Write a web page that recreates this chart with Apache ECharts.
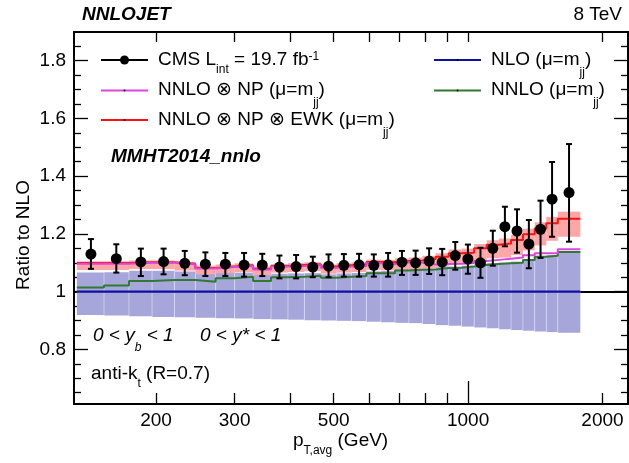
<!DOCTYPE html>
<html><head><meta charset="utf-8">
<script src="https://cdn.jsdelivr.net/npm/echarts@6/dist/echarts.min.js"></script>
<style>html,body{margin:0;padding:0;background:#fff}#c{width:629px;height:463px}</style>
</head><body><div id="c"></div>
<script>
// ---- data (pT_avg bins in GeV, ratios to NLO) ----
const edges = [133,153,174,196,220,245,272,300,330,362,395,430,468,507,548,592,638,686,737,790,846,905,967,1032,1101,1172,1248,1327,1410,1497,1588,1784];
const cmsPt = [143,163,185,208,232,258,286,315,346,378,412,449,487,527,570,615,662,711,763,818,875,936,999,1066,1136,1209,1287,1368,1453,1542,1683];
const cmsRatio = [1.130,1.114,1.103,1.104,1.098,1.095,1.095,1.092,1.092,1.085,1.087,1.085,1.088,1.091,1.093,1.091,1.093,1.102,1.100,1.106,1.102,1.125,1.113,1.100,1.150,1.225,1.210,1.165,1.216,1.320,1.343];
const cmsErrHigh = [1.182,1.164,1.149,1.149,1.141,1.136,1.134,1.134,1.131,1.125,1.127,1.121,1.129,1.130,1.131,1.129,1.134,1.141,1.142,1.150,1.148,1.172,1.163,1.152,1.211,1.294,1.285,1.248,1.315,1.449,1.511];
const cmsErrLow = [1.079,1.066,1.054,1.060,1.057,1.054,1.054,1.052,1.054,1.046,1.046,1.050,1.050,1.052,1.052,1.052,1.052,1.058,1.058,1.061,1.057,1.076,1.062,1.048,1.090,1.157,1.135,1.081,1.117,1.190,1.173];
const nlo = [1,1,1,1,1,1,1,1,1,1,1,1,1,1,1,1,1,1,1,1,1,1,1,1,1,1,1,1,1,1,1];
const nloBandLow = [0.919,0.917,0.915,0.912,0.911,0.910,0.908,0.907,0.905,0.904,0.903,0.901,0.900,0.899,0.898,0.896,0.894,0.892,0.891,0.888,0.884,0.882,0.879,0.876,0.873,0.870,0.867,0.865,0.862,0.860,0.858];
const nloBandHigh = [1.066,1.067,1.072,1.072,1.070,1.062,1.066,1.066,1.060,1.062,1.063,1.064,1.060,1.063,1.065,1.070,1.072,1.078,1.080,1.081,1.085,1.087,1.090,1.095,1.099,1.101,1.104,1.113,1.123,1.126,1.139];
const nnlo = [1.014,1.021,1.037,1.040,1.040,1.034,1.046,1.052,1.037,1.050,1.052,1.055,1.048,1.052,1.054,1.064,1.064,1.073,1.076,1.077,1.082,1.083,1.087,1.092,1.096,1.098,1.100,1.110,1.121,1.124,1.137];
const nnloNP = [1.097,1.097,1.100,1.100,1.095,1.080,1.085,1.089,1.077,1.087,1.089,1.092,1.083,1.087,1.089,1.098,1.096,1.102,1.100,1.094,1.096,1.097,1.099,1.106,1.110,1.114,1.118,1.126,1.133,1.133,1.147];
const nnloNPEWK = [1.099,1.099,1.102,1.102,1.097,1.082,1.087,1.091,1.079,1.089,1.092,1.095,1.087,1.091,1.094,1.103,1.102,1.106,1.108,1.113,1.121,1.133,1.135,1.150,1.162,1.167,1.179,1.199,1.219,1.237,1.252];
const ewkBandHigh = [1.105,1.105,1.108,1.108,1.103,1.090,1.094,1.098,1.087,1.096,1.099,1.102,1.094,1.098,1.101,1.111,1.110,1.115,1.118,1.124,1.133,1.146,1.149,1.165,1.178,1.184,1.197,1.218,1.240,1.259,1.277];
const ewkBandLow = [1.075,1.075,1.078,1.078,1.073,1.060,1.064,1.068,1.057,1.066,1.068,1.071,1.062,1.066,1.068,1.076,1.074,1.078,1.078,1.081,1.086,1.095,1.095,1.107,1.116,1.118,1.127,1.143,1.160,1.176,1.190];
const xTickLabels = [200,300,500,1000,2000];
const xMinorTicks = [200,300,400,500,600,700,800,900,2000];
const xMajorTicks = [1000];
const yTickLabels = [0.8,1,1.2,1.4,1.6,1.8];
const yMinorTicks = [0.65,0.7,0.75,0.85,0.9,0.95,1.05,1.1,1.15,1.25,1.3,1.35,1.45,1.5,1.55,1.65,1.7,1.75,1.85];

// ---- helpers ----
const FONT = '"Liberation Sans", Arial, Helvetica, sans-serif';
const L = Math.log10;
const XMIN = L(131.05), XMAX = L(2281), YMIN = 0.611, YMAX = 1.899;
const C_BLUE = '#1010a0', C_GREEN = '#2f7a30', C_MAG = '#dd44dd', C_RED = '#ff1010';
const C_LAV = '#a6a6da', C_PINK = '#ffa6a6';

function stepData(vals){ const d = vals.map((v,i)=>[L(edges[i]), v]); d.push([L(edges[edges.length-1]), vals[vals.length-1]]); return d; }
function bandData(lo, hi){ return lo.map((v,i)=>[L(edges[i]), L(edges[i+1]), v, hi[i]]); }
function bandRender(fill, sep){
  return function(params, api){
    const p0 = api.coord([api.value(0), api.value(3)]);
    const p1 = api.coord([api.value(1), api.value(2)]);
    const ch = [{type:'rect', shape:{x:p0[0], y:p0[1], width:p1[0]-p0[0], height:p1[1]-p0[1]}, style:{fill:fill}}];
    if (sep && params.dataIndex > 0) ch.push({type:'line', shape:{x1:p0[0], y1:p0[1], x2:p0[0], y2:p1[1]}, style:{stroke:'rgba(255,255,255,0.4)', lineWidth:1}});
    return {type:'group', children: ch};
  };
}
function xAxisBase(extra){
  return Object.assign({type:'value', min:XMIN, max:XMAX, gridIndex:0, splitLine:{show:false},
    axisLine:{show:false}, axisLabel:{show:false}, axisTick:{show:false}}, extra);
}
function yAxisBase(extra){
  return Object.assign({type:'value', min:YMIN, max:YMAX, gridIndex:0, splitLine:{show:false},
    axisLine:{show:false}, axisLabel:{show:false}, axisTick:{show:false}}, extra);
}
const tickStyle = {color:'#000', width:1.3};

const chart = echarts.init(document.getElementById('c'), null, {renderer:'canvas'});
const option = {
  animation:false,
  backgroundColor:'#fff',
  textStyle:{fontFamily:FONT},
  grid:{left:74, right:1, top:32, bottom:59, containLabel:false},
  xAxis:[
    xAxisBase({position:'bottom', axisLine:{show:true, onZero:false, lineStyle:{color:'#000', width:2}},
      axisTick:{show:true, inside:true, length:11, lineStyle:tickStyle, customValues:xMinorTicks.map(L)},
      axisLabel:{show:true, customValues:xTickLabels.map(L), margin:7, fontSize:19, color:'#000', fontFamily:FONT,
        formatter:v=>String(Math.round(Math.pow(10,v)))}}),
    xAxisBase({position:'bottom', axisTick:{show:true, inside:true, length:23, lineStyle:tickStyle, customValues:xMajorTicks.map(L)}}),
    xAxisBase({position:'top', axisLine:{show:true, onZero:false, lineStyle:{color:'#000', width:2}},
      axisTick:{show:true, inside:true, length:10, lineStyle:tickStyle, customValues:xMinorTicks.concat(xMajorTicks).map(L)}})
  ],
  yAxis:[
    yAxisBase({position:'left', axisLine:{show:true, onZero:false, lineStyle:{color:'#000', width:2}},
      axisTick:{show:true, inside:true, length:14, lineStyle:tickStyle, customValues:yTickLabels},
      axisLabel:{show:true, customValues:yTickLabels, margin:8, fontSize:19, color:'#000', fontFamily:FONT,
        formatter:v=>String(Math.round(v*10)/10)}}),
    yAxisBase({position:'left', axisTick:{show:true, inside:true, length:7, lineStyle:tickStyle, customValues:yMinorTicks}}),
    yAxisBase({position:'right', axisLine:{show:true, onZero:false, lineStyle:{color:'#000', width:2}},
      axisTick:{show:true, inside:true, length:14, lineStyle:tickStyle, customValues:yTickLabels}}),
    yAxisBase({position:'right', axisTick:{show:true, inside:true, length:7, lineStyle:tickStyle, customValues:yMinorTicks}})
  ],
  series:[
    {type:'custom', name:'NLO band', z:2, renderItem:bandRender(C_LAV, true), data:bandData(nloBandLow, nloBandHigh),
      markLine:{silent:true, symbol:'none', label:{show:false}, lineStyle:{color:'#000', width:2, type:'solid'}, data:[{yAxis:1}], z:1}},
    {type:'custom', name:'EWK band', z:3, renderItem:bandRender(C_PINK, false), data:bandData(ewkBandLow, ewkBandHigh)},
    {type:'line', name:'NNLO', z:4, step:'end', showSymbol:false, data:stepData(nnlo), lineStyle:{color:C_GREEN, width:2}},
    {type:'line', name:'NLO', z:4, step:'end', showSymbol:false, data:stepData(nlo), lineStyle:{color:C_BLUE, width:2.2}},
    {type:'line', name:'NNLO NP EWK', z:5, step:'end', showSymbol:false, data:stepData(nnloNPEWK), lineStyle:{color:C_RED, width:2}},
    {type:'line', name:'NNLO NP', z:6, step:'end', showSymbol:false, data:stepData(nnloNP), lineStyle:{color:C_MAG, width:2}},
    {type:'custom', name:'CMS err', z:7, data:cmsPt.map((x,i)=>[L(x), cmsErrLow[i], cmsErrHigh[i]]),
      renderItem:function(params, api){
        const pl = api.coord([api.value(0), api.value(1)]), ph = api.coord([api.value(0), api.value(2)]);
        const s = {stroke:'#000', lineWidth:2};
        return {type:'group', children:[
          {type:'line', shape:{x1:pl[0], y1:pl[1], x2:ph[0], y2:ph[1]}, style:s},
          {type:'line', shape:{x1:pl[0]-3, y1:pl[1], x2:pl[0]+3, y2:pl[1]}, style:s},
          {type:'line', shape:{x1:ph[0]-3, y1:ph[1], x2:ph[0]+3, y2:ph[1]}, style:s}]};
      }},
    {type:'scatter', name:'CMS', z:8, symbol:'circle', symbolSize:11, itemStyle:{color:'#000', opacity:1},
      data:cmsPt.map((x,i)=>[L(x), cmsRatio[i]])}
  ],
  graphic:[]
};

// ---- texts (rich text for sub/superscripts) ----
const rich = {
  n:{fontSize:19, fontFamily:FONT, color:'#000', verticalAlign:'top', lineHeight:22},
  sub:{fontSize:12, fontFamily:FONT, color:'#000', verticalAlign:'top', lineHeight:12, padding:[14,0,0,0]},
  jj:{fontSize:12, fontFamily:FONT, color:'#000', verticalAlign:'top', lineHeight:12, padding:[17,0,0,0]},
  sup:{fontSize:12, fontFamily:FONT, color:'#000', verticalAlign:'top', lineHeight:12, padding:[1,0,0,0]},
  ni:{fontSize:19, fontFamily:FONT, fontStyle:'italic', color:'#000', verticalAlign:'top', lineHeight:22},
  subi:{fontSize:12, fontFamily:FONT, fontStyle:'italic', color:'#000', verticalAlign:'top', lineHeight:12, padding:[16,0,0,0]}
};
function txt(x, y, text, extra){
  return Object.assign({type:'text', x:x, y:y, z:100, style:Object.assign({text:text, rich:rich, fill:'#000', font:'19px '+FONT, verticalAlign:'top'}, extra||{})});
}
function legLine(x1, x2, y, color, dot){
  const els = [{type:'line', z:100, shape:{x1:x1, y1:y, x2:x2, y2:y}, style:{stroke:color, lineWidth:2}}];
  if (dot) els.push({type:'circle', z:101, shape:{cx:(x1+x2)/2, cy:y, r:dot}, style:{fill:'#000'}});
  return els;
}
const g = [];
g.push(txt(82, 5, 'NNLOJET', {font:'italic bold 19px '+FONT}));
g.push(txt(622, 5, '8 TeV', {align:'right'}));
g.push(...legLine(101, 148, 60, '#000', 4.5));
g.push(txt(158, 50, '{n|CMS L}{sub|int}{n| = 19.7 fb}{sup|-1}'));
g.push(...legLine(101, 148, 90.5, C_MAG, 1));
g.push(txt(158, 80, '{n|NNLO \u2297 NP (\u03bc=m}{jj|jj}{n|)}'));
g.push(...legLine(101, 148, 120, C_RED, 1));
g.push(txt(158, 110, '{n|NNLO \u2297 NP \u2297 EWK (\u03bc=m}{jj|jj}{n|)}'));
g.push(...legLine(434, 481, 60, C_BLUE, 1));
g.push(txt(491, 50, '{n|NLO (\u03bc=m}{jj|jj}{n|)}'));
g.push(...legLine(434, 481, 90.5, C_GREEN, 1));
g.push(txt(491, 80, '{n|NNLO (\u03bc=m}{jj|jj}{n|)}'));
g.push(txt(111, 147, 'MMHT2014_nnlo', {font:'italic bold 19px '+FONT}));
g.push(txt(93, 326, '{ni|0 < y}{subi|b}{ni| < 1     0 < y* < 1}'));
g.push(txt(91, 364, '{n|anti-k}{sub|t}{n| (R=0.7)}'));
g.push(txt(293, 431, '{n|p}{sub|T,avg}{n| (GeV)}'));
g.push({type:'text', x:24, y:235, rotation:Math.PI/2, z:100, style:{text:'Ratio to NLO', font:'19px '+FONT, fill:'#000', align:'center', verticalAlign:'middle'}});
option.graphic = g;
chart.setOption(option);
</script>
</body></html>
